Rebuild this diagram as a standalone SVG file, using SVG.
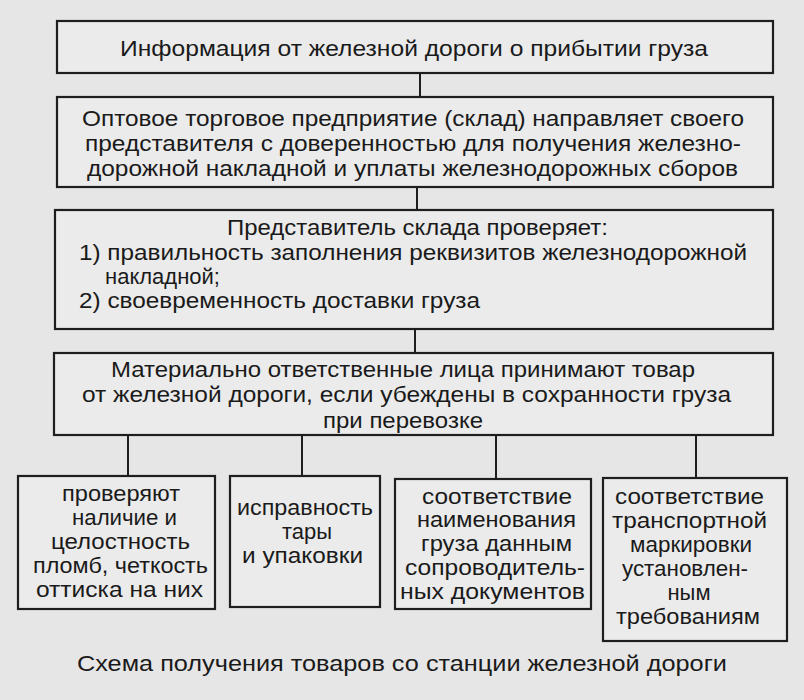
<svg xmlns="http://www.w3.org/2000/svg" width="804" height="700" viewBox="0 0 804 700">
<style>
.bx{fill:#ebebeb;stroke:#1e1e1e;stroke-width:2.2}
.ln{stroke:#1e1e1e;stroke-width:2;fill:none}
text{font-family:"Liberation Sans",Arial,sans-serif;font-size:22px;fill:#1a1a1a}
.c{text-anchor:middle}
</style>
<rect width="804" height="700" fill="#e6e6e6"/>
<g id="connectors">
<line class="ln" x1="420" y1="73" x2="420" y2="97"/>
<line class="ln" x1="417" y1="187" x2="417" y2="210"/>
<line class="ln" x1="415" y1="329" x2="415" y2="353"/>
<line class="ln" x1="128" y1="434" x2="128" y2="476"/>
<line class="ln" x1="302" y1="434" x2="302" y2="476"/>
<line class="ln" x1="496" y1="435" x2="496" y2="479"/>
<line class="ln" x1="696" y1="435" x2="696" y2="478"/>
</g>
<g id="n1">
<rect class="bx" x="57" y="21" width="716" height="52"/>
<text x="120" y="56" textLength="588" lengthAdjust="spacingAndGlyphs">Информация от железной дороги о прибытии груза</text>
</g>
<g id="n2">
<rect class="bx" x="57" y="97" width="716" height="90"/>
<text x="82" y="126" textLength="662" lengthAdjust="spacingAndGlyphs">Оптовое торговое предприятие (склад) направляет своего</text>
<text x="85" y="151" textLength="656" lengthAdjust="spacingAndGlyphs">представителя с доверенностью для получения железно-</text>
<text x="87" y="176" textLength="651" lengthAdjust="spacingAndGlyphs">дорожной накладной и уплаты железнодорожных сборов</text>
</g>
<g id="n3">
<rect class="bx" x="55" y="210" width="718" height="119"/>
<text x="227" y="235" textLength="381" lengthAdjust="spacingAndGlyphs">Представитель склада проверяет:</text>
<text x="79" y="260" textLength="668" lengthAdjust="spacingAndGlyphs">1) правильность заполнения реквизитов железнодорожной</text>
<text x="105" y="284">накладной;</text>
<text x="79" y="308" textLength="401" lengthAdjust="spacingAndGlyphs">2) своевременность доставки груза</text>
</g>
<g id="n4">
<rect class="bx" x="54" y="353" width="719" height="82"/>
<text x="111" y="377" textLength="584" lengthAdjust="spacingAndGlyphs">Материально ответственные лица принимают товар</text>
<text x="82" y="402" textLength="649" lengthAdjust="spacingAndGlyphs">от железной дороги, если убеждены в сохранности груза</text>
<text x="323" y="428" textLength="160" lengthAdjust="spacingAndGlyphs">при перевозке</text>
</g>
<g id="n5">
<rect class="bx" x="18" y="476" width="197" height="133"/>
<text x="62" y="501" textLength="118" lengthAdjust="spacingAndGlyphs">проверяют</text>
<text x="72" y="525" textLength="105" lengthAdjust="spacingAndGlyphs">наличие и</text>
<text x="51" y="549" textLength="139" lengthAdjust="spacingAndGlyphs">целостность</text>
<text x="33" y="573" textLength="175" lengthAdjust="spacingAndGlyphs">пломб, четкость</text>
<text x="36" y="597" textLength="167" lengthAdjust="spacingAndGlyphs">оттиска на них</text>
</g>
<g id="n6">
<rect class="bx" x="230" y="476" width="150" height="131"/>
<text x="237" y="515" textLength="136" lengthAdjust="spacingAndGlyphs">исправность</text>
<text class="c" x="307" y="539">тары</text>
<text x="242" y="563" textLength="121" lengthAdjust="spacingAndGlyphs">и упаковки</text>
</g>
<g id="n7">
<rect class="bx" x="395" y="479" width="196" height="130"/>
<text x="422" y="504" textLength="150" lengthAdjust="spacingAndGlyphs">соответствие</text>
<text x="417" y="527" textLength="159" lengthAdjust="spacingAndGlyphs">наименования</text>
<text x="421" y="551" textLength="151" lengthAdjust="spacingAndGlyphs">груза данным</text>
<text x="405" y="575" textLength="180" lengthAdjust="spacingAndGlyphs">сопроводитель-</text>
<text x="400" y="599" textLength="185" lengthAdjust="spacingAndGlyphs">ных документов</text>
</g>
<g id="n8">
<rect class="bx" x="603" y="478" width="184" height="163"/>
<text x="615" y="504" textLength="149" lengthAdjust="spacingAndGlyphs">соответствие</text>
<text x="612" y="528" textLength="155" lengthAdjust="spacingAndGlyphs">транспортной</text>
<text x="630" y="552" textLength="122" lengthAdjust="spacingAndGlyphs">маркировки</text>
<text x="622" y="576" textLength="126" lengthAdjust="spacingAndGlyphs">установлен-</text>
<text class="c" x="689" y="600">ным</text>
<text x="616" y="624" textLength="144" lengthAdjust="spacingAndGlyphs">требованиям</text>
</g>
<text x="77" y="671" textLength="650" lengthAdjust="spacingAndGlyphs">Схема получения товаров со станции железной дороги</text>
</svg>
